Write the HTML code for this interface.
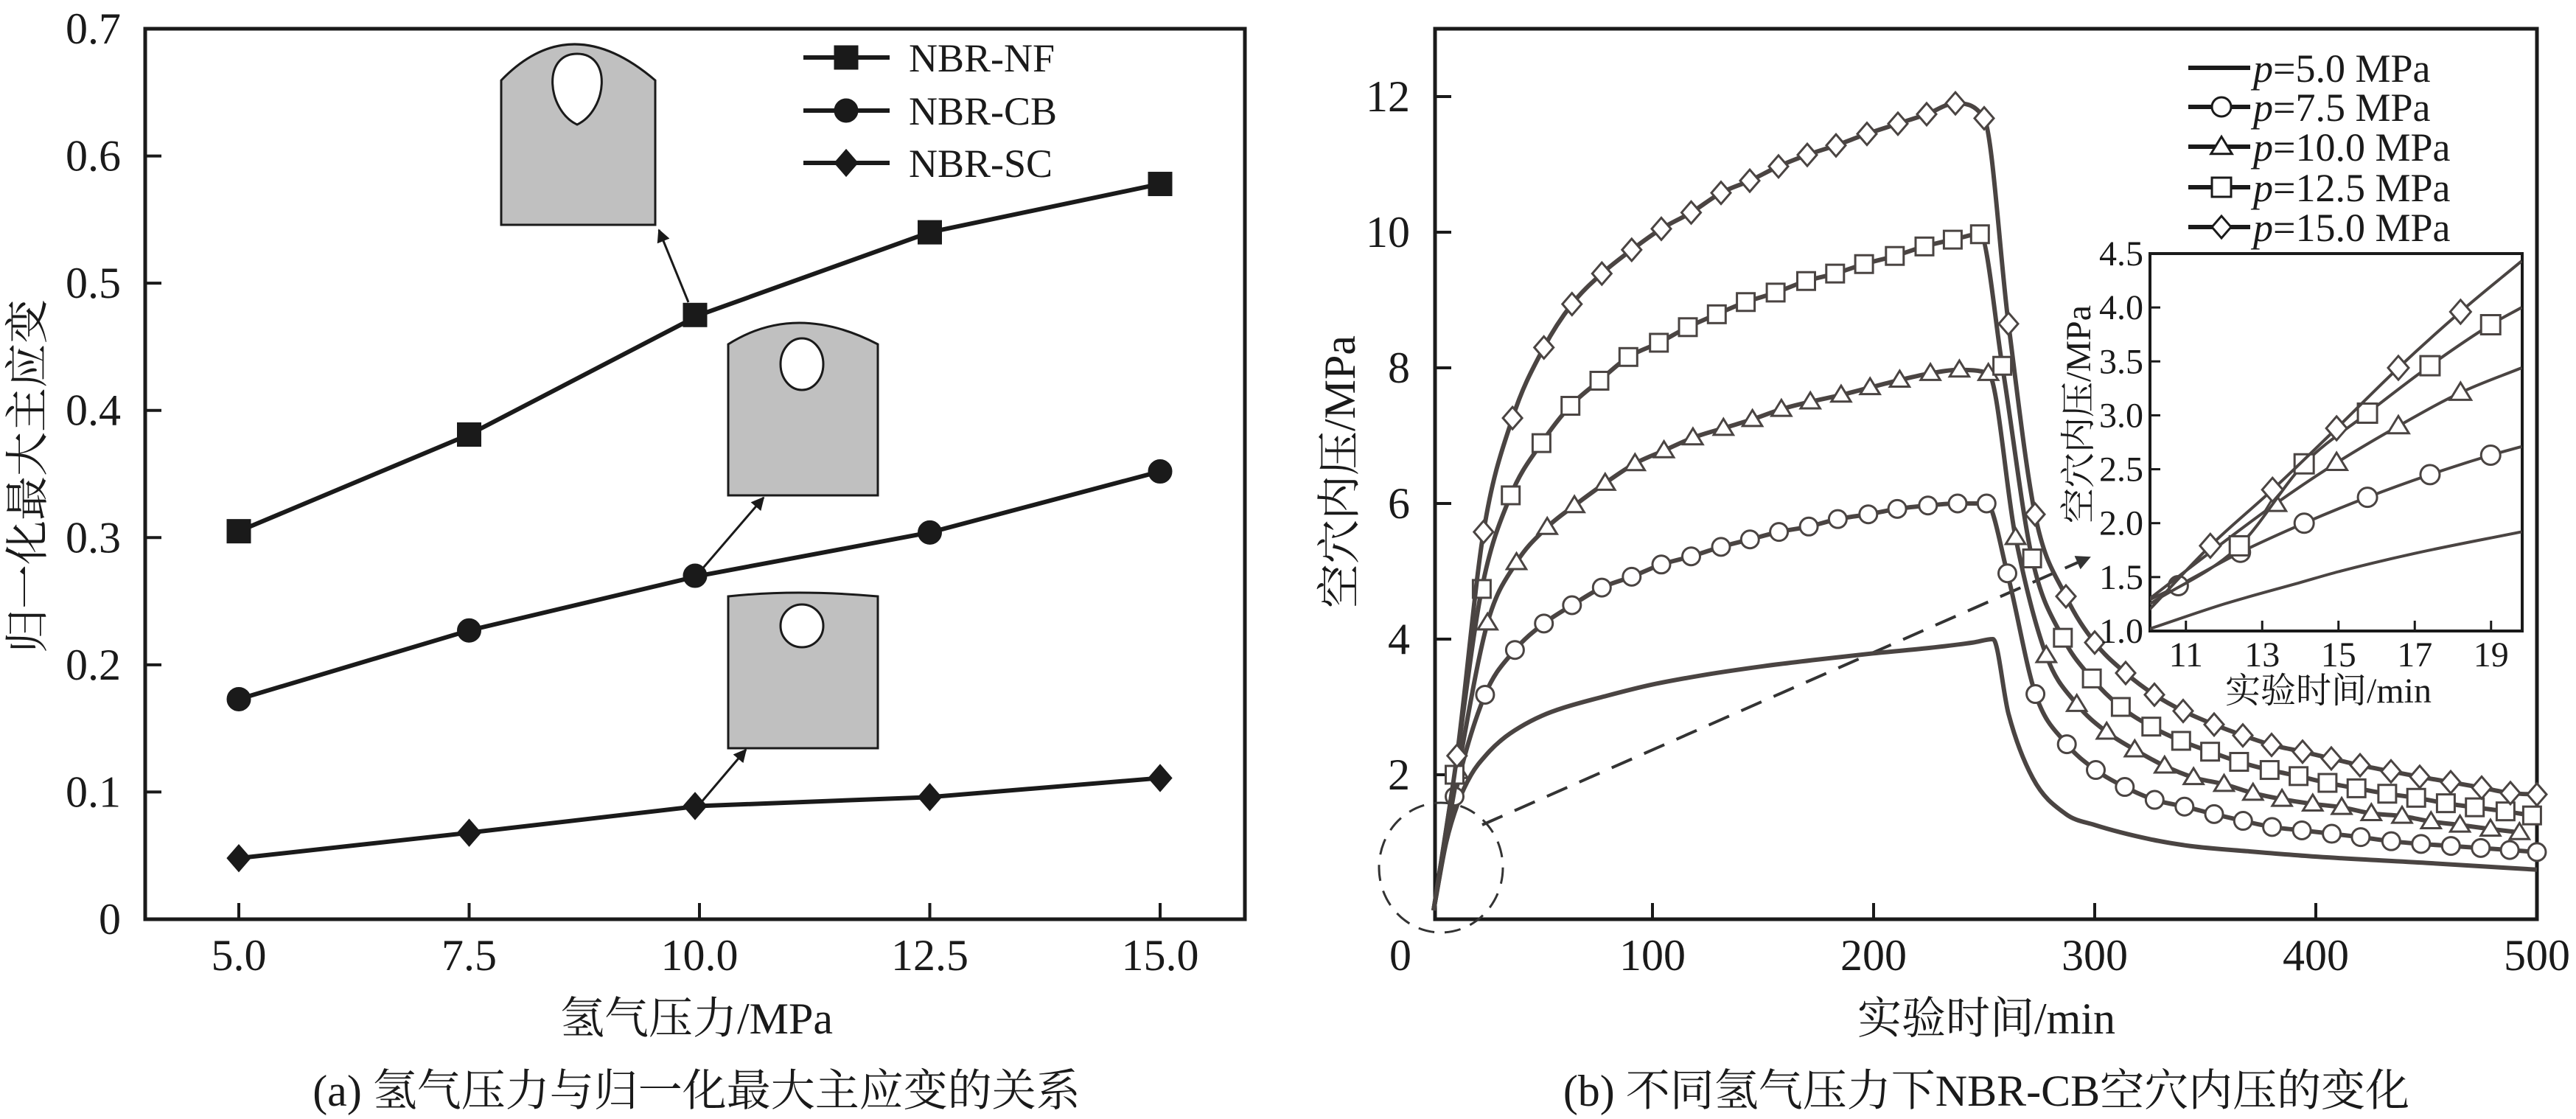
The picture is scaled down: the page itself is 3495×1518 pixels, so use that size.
<!DOCTYPE html>
<html><head><meta charset="utf-8"><style>
html,body{margin:0;padding:0;background:#fff;}
svg{display:block;}
text{font-family:"Liberation Serif","Noto Serif CJK SC",serif;fill:#1a1a1a;}
</style></head><body>
<svg id="svg" width="3495" height="1518" viewBox="0 0 3495 1518" xmlns="http://www.w3.org/2000/svg">
<g id="left"></g>
<g id="right"></g>
</svg>
<script>
// ---------- Left chart data ----------
const pressures = [5.0, 7.5, 10.0, 12.5, 15.0];
const strainNF = [0.305, 0.381, 0.475, 0.540, 0.578];
const strainCB = [0.173, 0.227, 0.270, 0.304, 0.352];
const strainSC = [0.048, 0.068, 0.089, 0.096, 0.111];
const leftYTicks = [0, 0.1, 0.2, 0.3, 0.4, 0.5, 0.6, 0.7];
const leftYTickLabels = ["0", "0.1", "0.2", "0.3", "0.4", "0.5", "0.6", "0.7"];
const leftXTicks = [5.0, 7.5, 10.0, 12.5, 15.0];
const leftXTickLabels = ["5.0", "7.5", "10.0", "12.5", "15.0"];

// ---------- Right chart data ----------
const rightXTicks = [100, 200, 300, 400, 500];
const rightXTickLabels = ["100", "200", "300", "400", "500"];
const rightYTicks = [2, 4, 6, 8, 10, 12];
const rightYTickLabels = ["2", "4", "6", "8", "10", "12"];
const startT = [1];
const startV = [0];
const t50 = [6.7, 12, 18, 25, 32, 40, 50, 60, 80, 100, 125, 150, 175, 200, 225, 245, 254, 261, 272, 287, 300, 325, 343, 370, 401, 450, 500];
const v50 = [1.0, 1.58, 2.0, 2.3, 2.52, 2.7, 2.87, 2.99, 3.17, 3.33, 3.48, 3.6, 3.7, 3.79, 3.87, 3.95, 4.0, 2.9, 1.95, 1.42, 1.26, 1.05, 0.95, 0.87, 0.79, 0.7, 0.6];
const t75 = [10.5, 24.3, 37.8, 50.9, 63.6, 77.1, 90.6, 104, 117.5, 131, 144.1, 157.2, 170.7, 183.8, 197.6, 210.7, 224.6, 238, 251.1, 260.5, 273.2, 287.4, 300.5, 313.6, 327.1, 340.6, 354, 367.1, 380.2, 393.7, 407.2, 420.3, 434.1, 447.6, 461.1, 474.6, 487.7, 500];
const v75 = [1.68, 3.18, 3.84, 4.23, 4.5, 4.76, 4.92, 5.1, 5.22, 5.36, 5.47, 5.58, 5.66, 5.77, 5.84, 5.92, 5.97, 6.0, 6.0, 4.97, 3.19, 2.45, 2.07, 1.82, 1.63, 1.53, 1.42, 1.32, 1.23, 1.18, 1.13, 1.08, 1.02, 0.98, 0.95, 0.92, 0.89, 0.86];
const t100 = [12, 25.4, 38.5, 52.4, 64.7, 78.6, 92.1, 105.2, 118.3, 132.1, 145.2, 158.3, 171.4, 185.3, 198.4, 211.8, 225.7, 238.8, 251.9, 264.2, 278.1, 291.9, 305.4, 318.1, 331.6, 344.7, 358.5, 371.6, 384.7, 398.6, 411.7, 425.1, 439, 452.1, 465.2, 479, 492.1];
const v100 = [2.05, 4.24, 5.13, 5.65, 5.97, 6.3, 6.59, 6.78, 6.97, 7.11, 7.24, 7.39, 7.5, 7.6, 7.71, 7.82, 7.92, 7.97, 7.92, 5.5, 3.76, 3.04, 2.63, 2.37, 2.13, 1.96, 1.86, 1.73, 1.64, 1.57, 1.52, 1.43, 1.39, 1.31, 1.26, 1.2, 1.15];
const t125 = [10.5, 22.8, 35.9, 49.8, 62.9, 76, 89.1, 102.9, 116, 129.1, 142.2, 155.7, 169.5, 182.6, 195.7, 209.6, 223, 235.8, 248.1, 258.2, 271.7, 285.6, 298.7, 311.8, 325.6, 339.1, 352.2, 365.3, 379.1, 392.2, 405.3, 418.4, 432.3, 445.4, 458.8, 471.9, 485.8, 497.8];
const v125 = [2.0, 4.74, 6.12, 6.89, 7.44, 7.81, 8.16, 8.37, 8.6, 8.79, 8.97, 9.11, 9.28, 9.39, 9.53, 9.65, 9.79, 9.89, 9.97, 8.03, 5.19, 4.02, 3.42, 3.0, 2.71, 2.5, 2.34, 2.19, 2.07, 1.98, 1.88, 1.8, 1.72, 1.66, 1.58, 1.52, 1.46, 1.4];
const t150 = [11.6, 23.6, 36.7, 50.9, 63.6, 77.1, 90.6, 104, 117.5, 131, 144, 157, 170, 183, 197, 211, 224, 237, 250, 261, 273, 287, 300, 314, 327, 340, 354, 367, 380, 394, 407, 420, 434, 447, 461, 475, 488, 500];
const v150 = [2.28, 5.58, 7.26, 8.3, 8.94, 9.39, 9.74, 10.05, 10.29, 10.58, 10.76, 10.97, 11.14, 11.28, 11.45, 11.6, 11.74, 11.9, 11.68, 8.65, 5.84, 4.63, 3.95, 3.5, 3.18, 2.94, 2.74, 2.58, 2.44, 2.34, 2.24, 2.14, 2.05, 1.97, 1.89, 1.81, 1.73, 1.71];
const legendLabels = ["=5.0 MPa", "=7.5 MPa", "=10.0 MPa", "=12.5 MPa", "=15.0 MPa"];

// ---------- Inset data ----------
const insetXTicks = [11, 13, 15, 17, 19];
const insetXTickLabels = ["11", "13", "15", "17", "19"];
const insetYTicks = [1.0, 1.5, 2.0, 2.5, 3.0, 3.5, 4.0, 4.5];
const insetYTickLabels = ["1.0", "1.5", "2.0", "2.5", "3.0", "3.5", "4.0", "4.5"];
const it50 = [10.05, 12, 14, 15, 17, 19.8];
const iv50 = [1.02, 1.25, 1.45, 1.55, 1.72, 1.92];
const it75 = [10.05, 10.8, 12.43, 14.1, 15.76, 17.4, 18.99, 19.8];
const iv75 = [1.29, 1.42, 1.73, 2.0, 2.24, 2.45, 2.63, 2.71];
const im75 = [false, true, true, true, true, true, true, false];
const it100 = [10.05, 11.6, 13.35, 14.95, 16.57, 18.2, 19.8];
const iv100 = [1.3, 1.72, 2.18, 2.56, 2.9, 3.21, 3.44];
const im100 = [false, false, true, true, true, true, false];
const it125 = [10.05, 12.4, 14.1, 15.76, 17.4, 18.99, 19.8];
const iv125 = [1.25, 1.79, 2.55, 3.02, 3.46, 3.84, 4.0];
const im125 = [false, true, true, true, true, true, false];
const it150 = [10.05, 11.64, 13.27, 14.95, 16.57, 18.2, 19.8];
const iv150 = [1.2, 1.79, 2.31, 2.88, 3.44, 3.96, 4.43];
const im150 = [false, true, true, true, true, true, false];

const NS = "http://www.w3.org/2000/svg";
function mk(parent, tag, attrs, txt) {
  const e = document.createElementNS(NS, tag);
  for (const k in attrs) e.setAttribute(k, attrs[k]);
  if (txt !== undefined) e.textContent = txt;
  parent.appendChild(e);
  return e;
}
function monoPath(xs, ys) {
  const n = xs.length; if (n < 2) return "";
  const d = [], m = new Array(n);
  for (let i = 0; i < n - 1; i++) d.push((ys[i+1]-ys[i])/(xs[i+1]-xs[i]));
  m[0] = d[0]; m[n-1] = d[n-2];
  for (let i = 1; i < n - 1; i++) m[i] = (d[i-1]*d[i] <= 0) ? 0 : (d[i-1]+d[i])/2;
  for (let i = 0; i < n - 1; i++) {
    if (d[i] === 0) { m[i] = 0; m[i+1] = 0; continue; }
    const a = m[i]/d[i], b = m[i+1]/d[i], s = a*a + b*b;
    if (s > 9) { const t = 3/Math.sqrt(s); m[i] = t*a*d[i]; m[i+1] = t*b*d[i]; }
  }
  let p = "M" + xs[0].toFixed(1) + "," + ys[0].toFixed(1);
  for (let i = 0; i < n - 1; i++) {
    const h = (xs[i+1]-xs[i])/3;
    p += " C" + (xs[i]+h).toFixed(1) + "," + (ys[i]+m[i]*h).toFixed(1) + " " + (xs[i+1]-h).toFixed(1) + "," + (ys[i+1]-m[i+1]*h).toFixed(1) + " " + xs[i+1].toFixed(1) + "," + ys[i+1].toFixed(1);
  }
  return p;
}
function marker(g, type, cx, cy, r, fill, stroke, sw) {
  let e;
  if (type === "square") e = mk(g, "rect", {x: cx-r, y: cy-r, width: 2*r, height: 2*r});
  else if (type === "circle") e = mk(g, "circle", {cx: cx, cy: cy, r: r});
  else if (type === "diamond") e = mk(g, "polygon", {points: `${cx},${cy-r*1.15} ${cx+r},${cy} ${cx},${cy+r*1.15} ${cx-r},${cy}`});
  else if (type === "triangle") e = mk(g, "polygon", {points: `${cx},${cy-r*1.05} ${cx+r*1.1},${cy+r*0.75} ${cx-r*1.1},${cy+r*0.75}`});
  e.setAttribute("fill", fill); e.setAttribute("stroke", stroke); e.setAttribute("stroke-width", sw);
  return e;
}

// ================= LEFT CHART =================
const L = document.getElementById("left");
const lx0 = 197, lx1 = 1689, ly0 = 39, ly1 = 1247;
const lX = v => 324 + (v - 5) * 125;
const lY = v => 1247 - v * (1208 / 0.7);
let e;
e = mk(L, "rect", {x: lx0, y: ly0, width: lx1-lx0, height: ly1-ly0, fill: "none", stroke: "#1a1a1a", "stroke-width": 5});
 
leftYTicks.forEach((v, i) => {
  const y = lY(v);
  if (i > 0 && i < leftYTicks.length - 1) mk(L, "line", {x1: lx0, x2: lx0 + 22, y1: y, y2: y, stroke: "#1a1a1a", "stroke-width": 4});
  const t = mk(L, "text", {x: 164, y: y + 20, "text-anchor": "end", "font-size": 60}, leftYTickLabels[i]);
   
});
leftXTicks.forEach((v, i) => {
  const x = lX(v);
  mk(L, "line", {x1: x, x2: x, y1: ly1, y2: ly1 - 22, stroke: "#1a1a1a", "stroke-width": 4});
  const t = mk(L, "text", {x: x, y: 1316, "text-anchor": "middle", "font-size": 60}, leftXTickLabels[i]);
   
});
e = mk(L, "text", {x: 945, y: 1402, "text-anchor": "middle", "font-size": 60}, "氢气压力/MPa");
 
e = mk(L, "text", {x: 0, y: 0, "text-anchor": "middle", "font-size": 60, transform: "translate(58,646) rotate(-90)"}, "归一化最大主应变");
 
e = mk(L, "text", {x: 945, y: 1500, "text-anchor": "middle", "font-size": 60}, "(a) 氢气压力与归一化最大主应变的关系");
 

// insets shapes
function shape(g, name, x0, x1, ySide, yPeak, yBot, hx, hy, rx, ry, egg) {
  const sg = mk(g, "g", {});
   
  const mid = (x0 + x1) / 2 - 10;
  mk(sg, "path", {d: `M${x0},${yBot} L${x0},${ySide} Q${mid},${yPeak - (ySide - yPeak)} ${x1},${ySide} L${x1},${yBot} Z`, fill: "#c0c0c0", stroke: "#1a1a1a", "stroke-width": 3});
  if (egg) mk(sg, "path", {d: `M${hx},${hy+ry} C${hx-rx*1.1},${hy+ry*0.6} ${hx-rx*1.3},${hy-ry} ${hx},${hy-ry} C${hx+rx*1.3},${hy-ry} ${hx+rx*1.1},${hy+ry*0.6} ${hx},${hy+ry} Z`, fill: "#fff", stroke: "#1a1a1a", "stroke-width": 3});
  else mk(sg, "ellipse", {cx: hx, cy: hy, rx: rx, ry: ry, fill: "#fff", stroke: "#1a1a1a", "stroke-width": 3});
}
shape(L, "nf-cavity-inset", 680, 889, 109, 60, 305, 783, 121, 37, 48, true);
shape(L, "cb-cavity-inset", 988, 1191, 467, 438, 672, 1088, 494, 29, 35, false);
shape(L, "sc-cavity-inset", 988, 1191, 809, 804, 1015, 1088, 849, 29, 29, false);
mk(L, "defs", {}).innerHTML = '<marker id="ah" viewBox="0 0 10 10" refX="9" refY="5" markerWidth="6" markerHeight="6" orient="auto"><path d="M0,0 L10,5 L0,10 Z" fill="#1a1a1a"/></marker><marker id="ah2" viewBox="0 0 10 10" refX="9" refY="5" markerWidth="5" markerHeight="5" orient="auto"><path d="M0,0 L10,5 L0,10 Z" fill="#333"/></marker>';
[[934, 410, 894, 312], [950, 775, 1036, 675], [950, 1090, 1012, 1017]].forEach(a => {
  e = mk(L, "line", {x1: a[0], y1: a[1], x2: a[2], y2: a[3], stroke: "#1a1a1a", "stroke-width": 3, "marker-end": "url(#ah)"});
   
});

const leftSeries = [[strainNF, "square", "nf"], [strainCB, "circle", "cb"], [strainSC, "diamond", "sc"]];
leftSeries.forEach(s => {
  const g = mk(L, "g", {});
   
  const pts = pressures.map((p, i) => lX(p) + "," + lY(s[0][i])).join(" ");
  mk(g, "polyline", {points: pts, fill: "none", stroke: "#1a1a1a", "stroke-width": 6});
  pressures.forEach((p, i) => {
    const m = marker(g, s[1], lX(p) - (p === 10 ? 6 : 0), lY(s[0][i]), 16, "#1a1a1a", "#1a1a1a", 1);
     
  });
});
// legend
const lg = mk(L, "g", {});
 
[["square", "NBR-NF", 78], ["circle", "NBR-CB", 150], ["diamond", "NBR-SC", 221]].forEach(r => {
  mk(lg, "line", {x1: 1090, x2: 1207, y1: r[2], y2: r[2], stroke: "#1a1a1a", "stroke-width": 6});
  marker(lg, r[0], 1148, r[2], 16, "#1a1a1a", "#1a1a1a", 1);
  e = mk(lg, "text", {x: 1233, y: r[2] + 19, "font-size": 54}, r[1]);
   
});

// ================= RIGHT CHART =================
const R = document.getElementById("right");
const rx0 = 1947, rx1 = 3442, ry0 = 39, ry1 = 1247;
const rX = t => 1942 + t * 3.0;
const rY = v => 1235 - v * 92;
const col = "#4a4442";
e = mk(R, "rect", {x: rx0, y: ry0, width: rx1-rx0, height: ry1-ry0, fill: "none", stroke: "#1a1a1a", "stroke-width": 5});
 
rightYTicks.forEach((v, i) => {
  const y = rY(v);
  mk(R, "line", {x1: rx0, x2: rx0 + 22, y1: y, y2: y, stroke: "#1a1a1a", "stroke-width": 4});
  e = mk(R, "text", {x: 1913, y: y + 20, "text-anchor": "end", "font-size": 60}, rightYTickLabels[i]);
   
});
e = mk(R, "text", {x: 1900, y: 1316, "text-anchor": "middle", "font-size": 60}, "0");
 
rightXTicks.forEach((v, i) => {
  const x = rX(v);
  if (v < 500) mk(R, "line", {x1: x, x2: x, y1: ry1, y2: ry1 - 22, stroke: "#1a1a1a", "stroke-width": 4});
  e = mk(R, "text", {x: x, y: 1316, "text-anchor": "middle", "font-size": 60}, rightXTickLabels[i]);
   
});
e = mk(R, "text", {x: 2695, y: 1402, "text-anchor": "middle", "font-size": 60}, "实验时间/min");
 
e = mk(R, "text", {x: 0, y: 0, "text-anchor": "middle", "font-size": 60, transform: "translate(1838,640) rotate(-90)"}, "空穴内压/MPa");
 
e = mk(R, "text", {x: 2695, y: 1500, "text-anchor": "middle", "font-size": 60}, "(b) 不同氢气压力下NBR-CB空穴内压的变化");
 

// dashed circle + arrow
e = mk(R, "ellipse", {cx: 1955, cy: 1177, rx: 84, ry: 88, fill: "none", stroke: "#333", "stroke-width": 3, "stroke-dasharray": "22 14"});
 
e = mk(R, "line", {x1: 2011, y1: 1119, x2: 2835, y2: 756, stroke: "#333", "stroke-width": 4, "stroke-dasharray": "30 18", "marker-end": "url(#ah2)"});
 

const rightSeries = [[t50, v50, null, "p50"], [t75, v75, "circle", "p75"], [t100, v100, "triangle", "p100"], [t125, v125, "square", "p125"], [t150, v150, "diamond", "p150"]];
rightSeries.forEach(s => {
  const g = mk(R, "g", {});
   
  const ts = startT.concat(s[0]), vs = startV.concat(s[1]);
  mk(g, "path", {d: monoPath(ts.map(rX), vs.map(rY)), fill: "none", stroke: col, "stroke-width": 6});
  if (s[2]) s[0].forEach((t, i) => {
    const m = marker(g, s[2], rX(t), rY(s[1][i]), s[2] === "diamond" ? 13 : 12, "#fff", col, 3);
     
  });
});
// legend
const rg = mk(R, "g", {});
 
const legTypes = [null, "circle", "triangle", "square", "diamond"];
const legY = [92, 145, 199, 254, 308];
legendLabels.forEach((lab, i) => {
  mk(rg, "line", {x1: 2969, x2: 3053, y1: legY[i], y2: legY[i], stroke: "#1a1a1a", "stroke-width": 6});
  if (legTypes[i]) marker(rg, legTypes[i], 3014, legY[i], 13, "#fff", "#1a1a1a", 3);
  const t = mk(rg, "text", {x: 3057, y: legY[i] + 19, "font-size": 54});
   
  mk(t, "tspan", {"font-style": "italic"}, "p");
  mk(t, "tspan", {}, lab);
});

// ---------- Inset ----------
const I = mk(R, "g", {});
 
const ix0 = 2917, ix1 = 3422, iy0 = 344, iy1 = 856;
const iX = t => 2914 + (t - 10) * 51.75;
const iY = v => 856 - (v - 1) * 146.3;
mk(I, "rect", {x: ix0, y: iy0, width: ix1-ix0, height: iy1-iy0, fill: "#fff", stroke: "#1a1a1a", "stroke-width": 4});
mk(I, "clipPath", {id: "ic"}).innerHTML = `<rect x="${ix0}" y="${iy0}" width="${ix1-ix0}" height="${iy1-iy0}"/>`;
insetYTicks.forEach((v, i) => {
  const y = iY(v);
  if (i > 0 && i < insetYTicks.length - 1) mk(I, "line", {x1: ix0, x2: ix0 + 14, y1: y, y2: y, stroke: "#1a1a1a", "stroke-width": 3});
  e = mk(I, "text", {x: 2908, y: y + 16, "text-anchor": "end", "font-size": 48}, insetYTickLabels[i]);
   
});
insetXTicks.forEach((v, i) => {
  const x = iX(v);
  mk(I, "line", {x1: x, x2: x, y1: iy1, y2: iy1 - 14, stroke: "#1a1a1a", "stroke-width": 3});
  e = mk(I, "text", {x: x, y: 904, "text-anchor": "middle", "font-size": 48}, insetXTickLabels[i]);
   
});
e = mk(I, "text", {x: 3159, y: 953, "text-anchor": "middle", "font-size": 48}, "实验时间/min");
 
e = mk(I, "text", {x: 0, y: 0, "text-anchor": "middle", "font-size": 48, transform: "translate(2836,562) rotate(-90)"}, "空穴内压/MPa");
 
const insetSeries = [[it50, iv50, null, null, "p50"], [it75, iv75, im75, "circle", "p75"], [it100, iv100, im100, "triangle", "p100"], [it125, iv125, im125, "square", "p125"], [it150, iv150, im150, "diamond", "p150"]];
insetSeries.forEach(s => {
  const g = mk(I, "g", {"clip-path": "url(#ic)"});
   
  mk(g, "path", {d: monoPath(s[0].map(iX), s[1].map(iY)), fill: "none", stroke: col, "stroke-width": 4});
  if (s[3]) s[0].forEach((t, i) => {
    if (!s[2][i]) return;
    const m = marker(g, s[3], iX(t), iY(s[1][i]), s[3] === "diamond" ? 14 : 13, "#fff", col, 3);
     
  });
});
</script>
</body></html>
